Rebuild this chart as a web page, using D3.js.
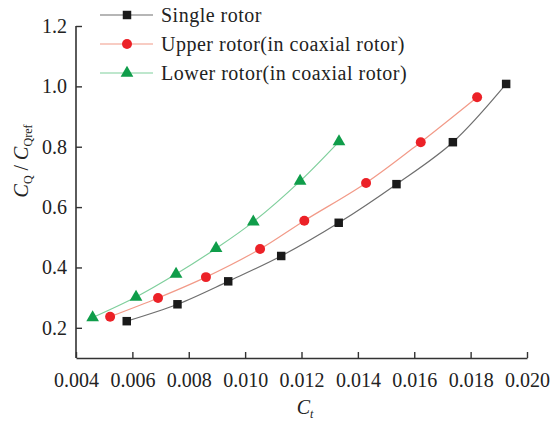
<!DOCTYPE html>
<html>
<head>
<meta charset="utf-8">
<script src="https://cdn.jsdelivr.net/npm/d3@7"></script>
<style>
  body { margin: 0; background: #fff; }
  text { font-family: "Liberation Serif", "Times New Roman", serif; fill: #222; }
</style>
</head>
<body>
<div id="chart"></div>
<script>
// data
const singleCt = [0.0058, 0.0076, 0.0094, 0.01128, 0.01332, 0.01537, 0.01737, 0.01926];
const singleCq = [0.222, 0.278, 0.354, 0.438, 0.548, 0.676, 0.815, 1.008];
const upperCt = [0.00521, 0.00691, 0.00861, 0.01053, 0.0121, 0.01429, 0.01623, 0.01823];
const upperCq = [0.237, 0.299, 0.368, 0.461, 0.555, 0.680, 0.815, 0.964];
const lowerCt = [0.00459, 0.00613, 0.00755, 0.00897, 0.01029, 0.01195, 0.01333];
const lowerCq = [0.234, 0.302, 0.378, 0.463, 0.551, 0.686, 0.817];
const xTicks = [0.004, 0.006, 0.008, 0.010, 0.012, 0.014, 0.016, 0.018, 0.020];
const yTicks = [0.2, 0.4, 0.6, 0.8, 1.0, 1.2];

const series = [
  {name: "Single rotor", xs: singleCt, ys: singleCq, line: "#6e6e6e", fill: "#1a1a1a", shape: d3.symbolSquare, size: 72},
  {name: "Upper rotor(in coaxial rotor)", xs: upperCt, ys: upperCq, line: "#f29a88", fill: "#ec2127", shape: d3.symbolCircle, size: 78},
  {name: "Lower rotor(in coaxial rotor)", xs: lowerCt, ys: lowerCq, line: "#7fcf9c", fill: "#0f9d4a", shape: d3.symbolTriangle, size: 70}
];

const width = 554, height = 422;
const svg = d3.select("#chart").append("svg")
  .attr("width", width).attr("height", height);

const x = d3.scaleLinear().domain([0.004, 0.020]).range([76, 527]);
const y = d3.scaleLinear().domain([0.1, 1.2]).range([358, 26]);

// axes, ticks point inward
const xAxis = svg.append("g")
  .attr("transform", "translate(0,358)")
  .call(d3.axisBottom(x).tickValues(xTicks).tickSizeInner(-6).tickSizeOuter(0)
    .tickPadding(15).tickFormat(d3.format(".3f")));
const yAxis = svg.append("g")
  .attr("transform", "translate(76,0)")
  .call(d3.axisLeft(y).tickValues(yTicks).tickSizeInner(-6).tickSizeOuter(0)
    .tickPadding(9).tickFormat(d3.format(".1f")));

[xAxis, yAxis].forEach(g => {
  g.select(".domain").attr("stroke", "#333").attr("stroke-width", 1.6);
  g.selectAll(".tick line").attr("stroke", "#333").attr("stroke-width", 1.4);
  g.selectAll(".tick text").attr("font-size", 20).attr("fill", "#222")
    .attr("font-family", "Liberation Serif, serif");
});
// y axis line starts at 0.1
yAxis.select(".domain").attr("d", `M0,${y(1.2)}V${y(0.1)}`);
xAxis.selectAll(".tick text").attr("dy", "0.71em");

// series
series.forEach(s => {
  const pts = s.xs.map((v, i) => [v, s.ys[i]]);
  svg.append("path")
    .datum(pts)
    .attr("fill", "none")
    .attr("stroke", s.line)
    .attr("stroke-width", 1.2)
    .attr("d", d3.line().x(d => x(d[0])).y(d => y(d[1])).curve(d3.curveCatmullRom));
  svg.append("g").selectAll("path")
    .data(pts)
    .join("path")
    .attr("transform", d => `translate(${x(d[0])},${y(d[1])})`)
    .attr("d", d3.symbol().type(s.shape).size(s.size))
    .attr("fill", s.fill);
});

// legend
const legend = svg.append("g");
series.forEach((s, i) => {
  const ly = 15 + i * 29;
  legend.append("line")
    .attr("x1", 100).attr("x2", 153).attr("y1", ly).attr("y2", ly)
    .attr("stroke", s.line).attr("stroke-width", 1.2);
  legend.append("path")
    .attr("transform", `translate(127,${ly})`)
    .attr("d", d3.symbol().type(s.shape).size(s.size))
    .attr("fill", s.fill);
  legend.append("text")
    .attr("x", 161).attr("y", ly + 7)
    .attr("font-size", 20)
    .attr("letter-spacing", 0.5)
    .text(s.name);
});

// axis titles
const xt = svg.append("text")
  .attr("x", 305).attr("y", 414)
  .attr("text-anchor", "middle")
  .attr("font-size", 20);
xt.append("tspan").attr("font-style", "italic").text("C");
xt.append("tspan").attr("font-size", 12).attr("font-style", "italic").attr("dy", 4).text("t");

const yt = svg.append("text")
  .attr("transform", "translate(28,161) rotate(-90)")
  .attr("text-anchor", "middle")
  .attr("font-size", 20);
yt.append("tspan").attr("font-style", "italic").text("C");
yt.append("tspan").attr("font-size", 12).attr("dy", 4).text("Q");
yt.append("tspan").attr("dy", -4).text(" / ");
yt.append("tspan").attr("font-style", "italic").text("C");
yt.append("tspan").attr("font-size", 12).attr("dy", 4).text("Qref");
</script>
</body>
</html>
